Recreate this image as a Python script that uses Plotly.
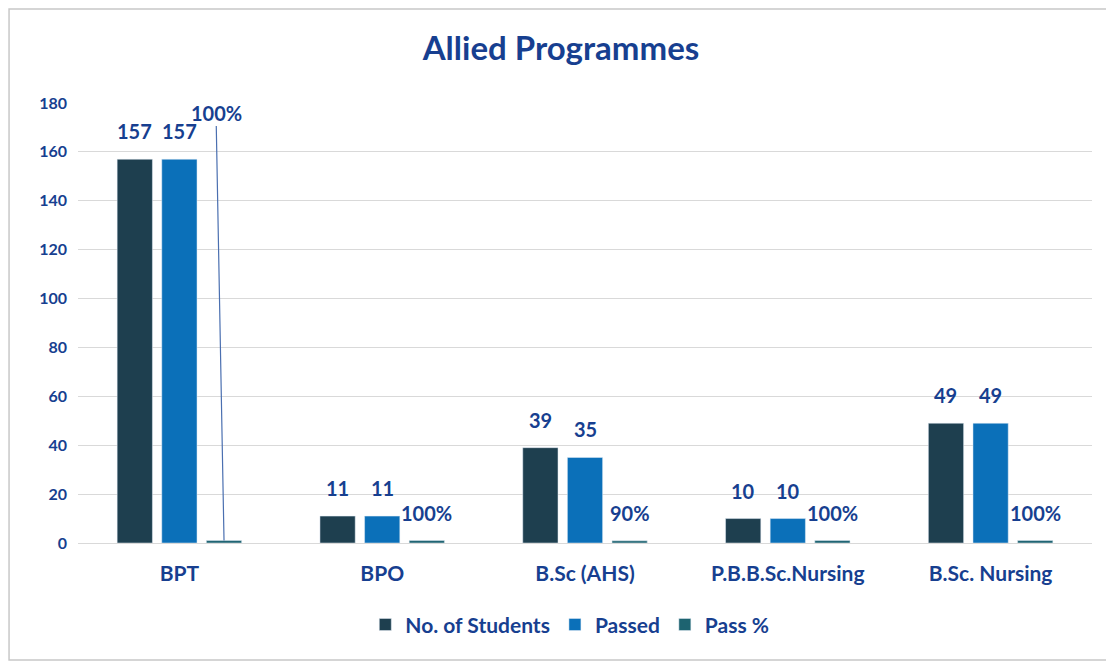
import plotly.graph_objects as go

categories = ["BPT", "BPO", "B.Sc (AHS)", "P.B.B.Sc.Nursing", "B.Sc. Nursing"]
students = [157, 11, 39, 10, 49]
passed = [157, 11, 35, 10, 49]
pass_pct = [1.0, 1.0, 0.9, 1.0, 1.0]
pass_labels = ["100%", "100%", "90%", "100%", "100%"]
y_ticks = [0, 20, 40, 60, 80, 100, 120, 140, 160, 180]

NAVY = "#173f90"
FONT = "Lato"
LBL = dict(color=NAVY, size=20, family=FONT, weight="bold")

W, H = 1106, 659
ML, MR, MT, MB = 70, 22, 95, 124
BARGAP = 0.34
plot_w = W - ML - MR
slot = plot_w / len(categories) * (1 - BARGAP) / 3  # pixel width of one bar slot

fig = go.Figure()
fig.add_bar(x=categories, y=students, name="No. of Students", marker_color="#1e3f4f")
fig.add_bar(x=categories, y=passed, name="Passed", marker_color="#0b70b9")
fig.add_bar(x=categories, y=pass_pct, name="Pass %", marker_color="#1d6370")

# data labels, anchored to each bar top
series = [(students, [str(v) for v in students]),
          (passed, [str(v) for v in passed]),
          (pass_pct, pass_labels)]
for i, (vals, labels) in enumerate(series):
    for j, (cat, v, t) in enumerate(zip(categories, vals, labels)):
        if i == 2 and j == 0:
            # leader-line label for the BPT pass %
            fig.add_annotation(x=cat, y=v, xshift=(i - 1) * slot, text=t,
                               showarrow=True, arrowhead=0, arrowwidth=1.2,
                               arrowcolor="#4a6fb0", axref="pixel", ayref="pixel",
                               ax=-8, ay=-428, font=LBL)
        else:
            fig.add_annotation(x=cat, y=v, xshift=(i - 1) * slot, yshift=14,
                               text=t, showarrow=False, yanchor="bottom", font=LBL)

fig.update_layout(
    width=W, height=H,
    paper_bgcolor="white", plot_bgcolor="white",
    barmode="group", bargap=BARGAP, bargroupgap=0.21,
    margin=dict(l=ML, r=MR, t=MT, b=MB),
    title=dict(text="Allied Programmes", x=0.5, xanchor="center", y=0.939, yanchor="middle",
               font=dict(family=FONT, size=33, color=NAVY, weight="bold")),
    font=dict(family=FONT, color=NAVY, size=16),
    legend=dict(orientation="h", x=0.485, xanchor="center", y=-0.186, yanchor="middle",
                font=dict(size=21, color=NAVY, family=FONT, weight="bold"),
                traceorder="normal"),
    xaxis=dict(tickfont=dict(size=21, color=NAVY, family=FONT, weight="bold"), showgrid=False,
               showline=True, linecolor="#d9d9d9", ticks="", ticklabelstandoff=12),
    yaxis=dict(range=[0, 180], tickvals=y_ticks, showgrid=True, gridcolor="#d9d9d9",
               zeroline=False, ticklabelstandoff=10,
               tickfont=dict(size=16, color=NAVY, family=FONT, weight="bold")),
    shapes=[dict(type="rect", xref="paper", yref="paper", x0=-0.068, x1=1.0178,
                 y0=-0.266, y1=1.2136, line=dict(color="#c8c8c8", width=1.5))],
)

fig.write_html("out.html")
